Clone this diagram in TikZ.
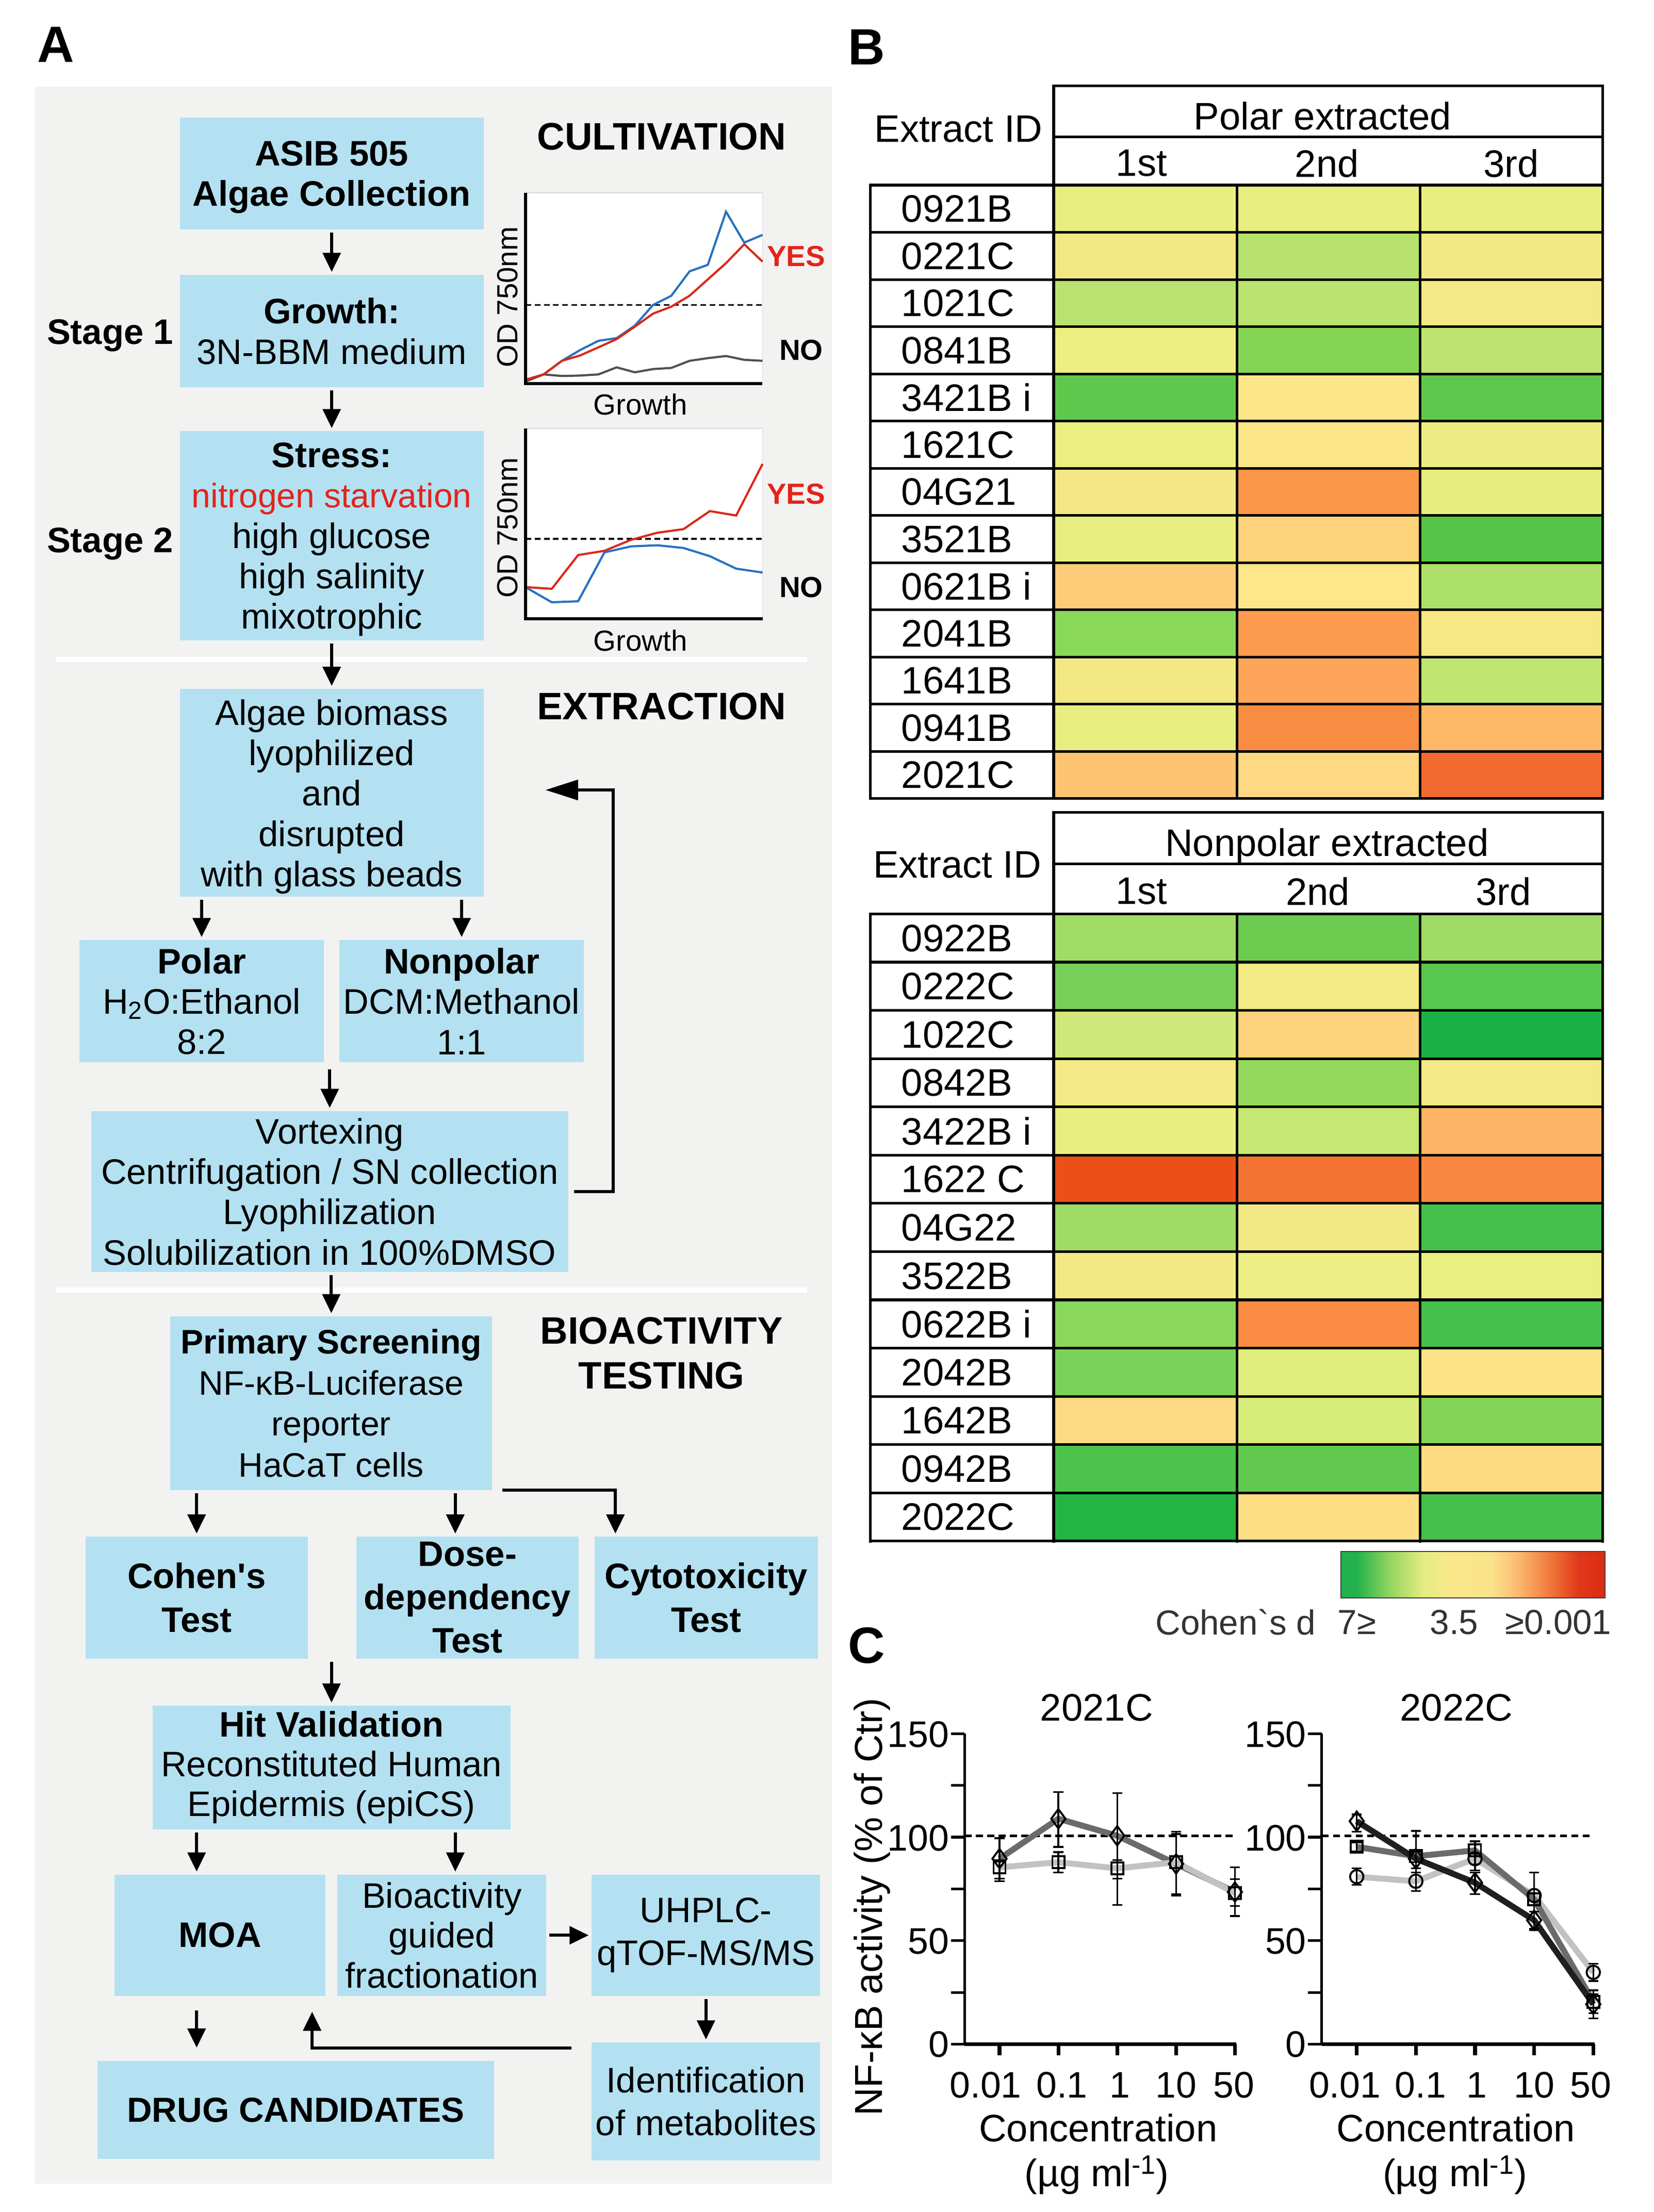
\documentclass[tikz,border=0pt]{standalone}
\usepackage{fontspec}
\setmainfont{Liberation Sans}
\usetikzlibrary{arrows.meta,positioning,calc}

\definecolor{boxblue}{RGB}{180,225,241}
\definecolor{panelgray}{RGB}{242,242,241}
\definecolor{stressred}{RGB}{226,36,27}
\definecolor{odblue}{RGB}{38,114,192}
\definecolor{odred}{RGB}{218,40,22}
\definecolor{odgray}{RGB}{80,80,80}
% colour bar stops
\definecolor{cbA}{HTML}{22B14C}
\definecolor{cbB}{HTML}{8FD45E}
\definecolor{cbC}{HTML}{E2EC80}
\definecolor{cbD}{HTML}{F7E88A}
\definecolor{cbE}{HTML}{FBE38A}
\definecolor{cbF}{HTML}{FDC57A}
\definecolor{cbG}{HTML}{F7A05A}
\definecolor{cbH}{HTML}{EE6E35}
\definecolor{cbI}{HTML}{E0371A}
\definecolor{cbJ}{HTML}{DD2C10}
\pgfdeclarehorizontalshading{cohenbar}{100bp}{color(0bp)=(cbA); color(28bp)=(cbA); color(34bp)=(cbB); color(40.5bp)=(cbC); color(45bp)=(cbD); color(53.5bp)=(cbE); color(57.25bp)=(cbF); color(61bp)=(cbG); color(65.5bp)=(cbH); color(70bp)=(cbI); color(75bp)=(cbJ); color(100bp)=(cbJ)}

\newcommand{\flowfont}{\fontsize{25}{28.5}\selectfont}
\newcommand{\headfont}{\fontsize{27}{31.4}\selectfont\bfseries}
\newcommand{\tabfont}{\fontsize{27}{32}\selectfont}
\newcommand{\odfont}{\fontsize{20.5}{24}\selectfont}
\newcommand{\tickfont}{\fontsize{26}{30}\selectfont}
\newcommand{\axisfont}{\fontsize{27}{31}\selectfont}
\newcommand{\panelfont}{\fontsize{36}{40}\selectfont\bfseries}
\newcommand{\errbar}[3]{\draw[line width=1.2pt] (#1,#2) -- (#1,#3) (#1,#2) ++(-3.5pt,0) -- ++(7pt,0) (#1,#3) ++(-3.5pt,0) -- ++(7pt,0);}

\tikzset{
  diam/.pic={\draw[line width=1.4pt] (0,6.8pt) -- (5pt,0) -- (0,-6.8pt) -- (-5pt,0) -- cycle;},
  sqm/.pic={\draw[line width=1.4pt] (-4.2pt,-4.2pt) rectangle (4.2pt,4.2pt);},
  circm/.pic={\draw[line width=1.4pt] (0,0) circle (4.7pt);}
}

\begin{document}
\begin{tikzpicture}[x=1pt,y=-1pt,
  box/.style={fill=boxblue, inner sep=0pt, align=center, font=\flowfont},
  arr/.style={-{Triangle[length=13.5pt,width=12.5pt]}, line width=2.3pt, shorten <=2pt, shorten >=2pt},
  head/.style={font=\headfont, align=center, inner sep=0pt},
  odlbl/.style={font=\odfont, inner sep=0pt, text depth=0pt},
  tablbl/.style={font=\tabfont, inner sep=0pt, text depth=0pt},
  tabline/.style={line width=1.9pt, line cap=rect},
  ticklbl/.style={font=\tickfont, inner sep=0pt, text depth=0pt},
  axlbl/.style={font=\axisfont, inner sep=0pt, text depth=0pt},
  lgd/.style={font=\fontsize{24.5}{28}\selectfont, text=black!80, inner sep=0pt, text depth=0pt},
  panel/.style={font=\panelfont, inner sep=0pt, text depth=0pt},
  serblack/.style={line width=4.2pt, black!88, line join=round},
  serdark/.style={line width=4.2pt, black!58, line join=round},
  serlight/.style={line width=4.2pt, black!24, line join=round}]

\useasboundingbox (0,0) rectangle (1166,1560.2);
\fill[white] (0,0) rectangle (1166,1560.2);

%% ---------------- A: work flow ----------------
\node[panel] (labA) at (39.2,31.6) {A};
\fill[panelgray] (24.9,61.2) rectangle (586.5,1540);
\draw[white, line width=3.8pt] (39.4,465.2) -- (569,465.2);
\draw[white, line width=3.8pt] (39.4,910) -- (569,910);

\node[head] (cult) at (466.5,96.4) {CULTIVATION};
\node[head] (extr) at (466.5,498.3) {EXTRACTION};
\node[head] (bioact) at (466.5,954.4) {BIOACTIVITY\\TESTING};
\node[font=\flowfont\bfseries, inner sep=0pt, text depth=0pt] (st1) at (77.6,234.2) {Stage 1};
\node[font=\flowfont\bfseries, inner sep=0pt, text depth=0pt] (st2) at (77.6,380.8) {Stage 2};

% cultivation
\node[box, font=\flowfont\bfseries, text depth=0pt, minimum width=214.3pt, minimum height=78.9pt] (asib) at (233.9,122.4) {ASIB 505\\Algae Collection};
\node[box, minimum width=214.3pt, minimum height=79.2pt] (growth) at (233.9,233.6) {\textbf{Growth:}\\3N-BBM medium};
\node[box, text depth=-4pt, minimum width=214.3pt, minimum height=147.4pt] (stress) at (233.9,377.9) {\textbf{Stress:}\\\textcolor{stressred}{\fontsize{24}{28.5}\selectfont nitrogen starvation}\\high glucose\\high salinity\\mixotrophic};

% extraction
\node[box, text depth=0pt, minimum width=214.3pt, minimum height=146.6pt] (biomass) at (233.9,559.3) {Algae biomass\\lyophilized\\and\\disrupted\\with glass beads};
\node[box, minimum width=172.6pt, minimum height=86.1pt] (polar) at (142.2,706.2) {\textbf{Polar}\\H\textsubscript{2}O:Ethanol\\8:2};
\node[box, minimum width=172.6pt, minimum height=86.1pt] (nonpolar) at (325.5,706.2) {\textbf{Nonpolar}\\DCM:Methanol\\1:1};
\node[box, minimum width=336.4pt, minimum height=113.7pt] (vortex) at (232.5,840.5) {Vortexing\\Centrifugation / SN collection\\Lyophilization\\Solubilization in 100\%DMSO};

% bioactivity testing
\node[box, font=\fontsize{24}{29}\selectfont, minimum width=226.9pt, minimum height=122.5pt] (primary) at (233.6,989.7) {\textbf{Primary Screening}\\NF-κB-Luciferase\\reporter\\HaCaT cells};
\node[box, font=\fontsize{25}{31}\selectfont\bfseries, minimum width=156.9pt, minimum height=85.9pt] (cohen) at (138.65,1126.85) {Cohen\textquotesingle s\\Test};
\node[box, font=\fontsize{25}{30.5}\selectfont\bfseries, minimum width=156.9pt, minimum height=85.9pt] (dose) at (329.65,1126.85) {Dose-\\dependency\\Test};
\node[box, font=\fontsize{25}{31}\selectfont\bfseries, minimum width=157.3pt, minimum height=85.9pt] (cyto) at (498.05,1126.85) {Cytotoxicity\\Test};
\node[box, font=\fontsize{25}{28}\selectfont, minimum width=252.5pt, minimum height=87.1pt] (hit) at (233.75,1246.65) {\textbf{Hit Validation}\\Reconstituted Human\\Epidermis (epiCS)};
\node[box, font=\flowfont\bfseries, minimum width=148.8pt, minimum height=85.4pt] (moa) at (155.1,1365) {MOA};
\node[box, font=\fontsize{25}{28.1}\selectfont, minimum width=147.2pt, minimum height=85.4pt] (bioguided) at (311.6,1365) {Bioactivity\\guided\\fractionation};
\node[box, font=\fontsize{25}{30}\selectfont, minimum width=161pt, minimum height=85.4pt] (uhplc) at (497.8,1365) {UHPLC-\\qTOF-MS/MS};
\node[box, font=\fontsize{25}{30}\selectfont, minimum width=161pt, minimum height=83pt] (ident) at (497.8,1482.2) {Identification\\of metabolites};
\node[box, font=\fontsize{24.5}{28}\selectfont\bfseries, minimum width=279.7pt, minimum height=69.4pt] (drug) at (208.45,1488.2) {DRUG CANDIDATES};

\draw[arr] (asib) -- (growth);
\draw[arr] (growth) -- (stress);
\draw[arr] (stress) -- (biomass);
\draw[arr] (biomass.south -| polar) -- (polar);
\draw[arr] (biomass.south -| nonpolar) -- (nonpolar);
\draw[arr, shorten <=5pt] (polar.south -| vortex) -- (vortex);
\draw[arr] (vortex.south -| primary) -- (primary);
\coordinate (fbcorner) at (432.4,557.2);
\coordinate (fbtip) at (384.6,557.2);
\draw[line width=2.3pt, -{Triangle[length=23pt,width=14pt]}] ([xshift=4pt]vortex.east) -- (vortex.east -| fbcorner) -- (fbcorner) -- (fbtip);

\coordinate (dosein) at ([xshift=-8.6pt]dose.north);
\coordinate (cytoin) at ([xshift=86.7pt]primary.south east);
\draw[arr] (primary.south -| cohen) -- (cohen);
\draw[arr] (primary.south -| dosein) -- (dosein);
\draw[arr, shorten <=0pt] ([xshift=7pt]primary.south east) -- (cytoin) -- (cytoin |- cyto.north);
\draw[arr] (cohen.south -| hit) -- (hit);
\draw[arr] (hit.south -| cohen) -- (moa.north -| cohen);
\draw[arr] (hit.south -| dosein) -- (bioguided.north -| dosein);
\draw[arr] (bioguided) -- (uhplc);
\draw[arr] (uhplc) -- (ident);
\draw[arr, shorten <=10pt, shorten >=9pt] (moa.south -| cohen) -- (drug.north -| cohen);
\draw[arr, shorten <=0pt, shorten >=11pt] ([xshift=-14pt,yshift=-4pt]ident.north west) -| ([xshift=-9.6pt]moa.south east);

% growth curves, stage 1
\begin{scope}[xshift=370.5pt, yshift=-270.6pt, x=12.86pt, y=1pt]
  \fill[white] (0,0) rectangle (13,134.7);
  \draw[line width=0.6pt, black!15] (0,134.7) -- (13,134.7) -- (13,0);
  \draw[line width=1.3pt, dash pattern=on 4pt off 2.5pt] (0,55.5) -- (13,55.5);
  \draw[odgray, line width=1.5pt] plot coordinates {(0,1.5) (1,6.5) (2,5.4) (3,5.7) (4,6.5) (5,11.5) (6,8) (7,10.3) (8,11.1) (9,16.1) (10,18) (11,19.5) (12,16.8) (13,16.1)};
  \draw[odblue, line width=1.5pt] plot coordinates {(0,2.7) (1,6.5) (2,16.1) (3,23.7) (4,30.2) (5,32.1) (6,40.9) (7,55.5) (8,62) (9,79.2) (10,83.8) (11,121.3) (12,99.5) (13,104.9)};
  \draw[odred, line width=1.5pt] plot coordinates {(0,2.7) (1,6.5) (2,16.1) (3,19.9) (4,25.6) (5,31.4) (6,40.2) (7,49.4) (8,54.3) (9,62) (10,73.5) (11,85) (12,98.3) (13,86.1)};
  \draw[line width=2.3pt] (0,134.7) -- (0,0) -- (13,0);
\end{scope}
% growth curves, stage 2
\begin{scope}[xshift=370.5pt, yshift=-436.3pt, x=18.58pt, y=1pt]
  \fill[white] (0,0) rectangle (9,134);
  \draw[line width=0.6pt, black!15] (0,134) -- (9,134) -- (9,0);
  \draw[line width=1.3pt, dash pattern=on 4pt off 2.5pt] (0,56.3) -- (9,56.3);
  \draw[odblue, line width=1.5pt] plot coordinates {(0,22.2) (1,11.5) (2,12.2) (3,46.7) (4,50.9) (5,51.7) (6,49.8) (7,44) (8,35.2) (9,32.5)};
  \draw[odred, line width=1.5pt] plot coordinates {(0,22.2) (1,21) (2,44.8) (3,47.8) (4,55.5) (5,60.5) (6,63.1) (7,75.8) (8,72.7) (9,109.1)};
  \draw[line width=2.3pt] (0,134) -- (0,0) -- (9,0);
\end{scope}
\node[odlbl, rotate=90] (od1) at (357.8,209.5) {OD 750nm};
\node[odlbl, rotate=90] (od2) at (357.8,372.2) {OD 750nm};
\node[odlbl] (gr1) at (451.6,285.1) {Growth};
\node[odlbl] (gr2) at (451.6,451.6) {Growth};
\node[odlbl, font=\odfont\bfseries, text=stressred] (yes1) at (561.4,180.6) {YES};
\node[odlbl, font=\odfont\bfseries] (no1) at (565,246.8) {NO};
\node[odlbl, font=\odfont\bfseries, text=stressred] (yes2) at (561.4,348.3) {YES};
\node[odlbl, font=\odfont\bfseries] (no2) at (565,414) {NO};

%% ---------------- B: heat maps ----------------
\node[panel] (labB) at (611,33.4) {B};

% polar extracted
\node[tablbl] (pid) at (675.9,91) {Extract ID};
\node[tablbl] (phead) at (932.7,81.6) {Polar extracted};
\node[tablbl] (p1) at (805,115) {1st};
\node[tablbl] (p2) at (935.7,115) {2nd};
\node[tablbl] (p3) at (1065.6,115) {3rd};
\foreach \lab/\ca/\cb/\cc [count=\r from 0] in {0921B/E8EF80/E8EF80/E8EF80, 0221C/F2E984/B6E16C/F2E984, 1021C/B9E270/BAE370/F5E886, 0841B/EEEF83/84D456/BDE471, 3421B i/5FC94D/FCE68A/5EC84C, 1621C/EAEF80/FCE68A/EDEC82, 04G21/F5E787/FB9548/E6EE7F, 3521B/E8EF80/FED37C/55C448, 0621B i/FECC78/FEE68A/ACE069, 2041B/8AD85A/FC9B4F/F6E883, 1641B/F4E884/FDA65A/C0E571, 0941B/E8EF80/F98C43/FEB967, 2021C/FEC472/FED883/F26A2F}{
  \definecolor{cella}{HTML}{\ca}
  \definecolor{cellb}{HTML}{\cb}
  \definecolor{cellc}{HTML}{\cc}
  \fill[cella] (743,130.6+\r*33.28) rectangle (872.3,163.88+\r*33.28);
  \fill[cellb] (872.3,130.6+\r*33.28) rectangle (1001.3,163.88+\r*33.28);
  \fill[cellc] (1001.3,130.6+\r*33.28) rectangle (1130,163.88+\r*33.28);
  \node[tablbl, anchor=west] (prow\r) at (635.5,147.24+\r*33.28) {\lab};
}
\draw[tabline] (743,60.5) rectangle (1130,130.6);
\draw[tabline] (743,96.5) -- (1130,96.5);
\foreach \r in {0,...,13} \draw[tabline] (613.8,130.6+\r*33.28) -- (1130,130.6+\r*33.28);
\foreach \cx in {613.8,743,872.3,1001.3,1130} \draw[tabline] (\cx,130.6) -- (\cx,563.24);

% nonpolar extracted
\node[tablbl] (nid) at (675,610) {Extract ID};
\node[tablbl] (nhead) at (935.7,594.1) {Nonpolar extracted};
\node[tablbl] (n1) at (805,628.6) {1st};
\node[tablbl] (n2) at (929.2,628.6) {2nd};
\node[tablbl] (n3) at (1060.2,628.6) {3rd};
\foreach \lab/\ca/\cb/\cc [count=\r from 0] in {0922B/A0DC66/6BCC4F/9FDB66, 0222C/78D058/F3EA85/58C74D, 1022C/D0E87A/FED27C/1CB145, 0842B/F5E886/94D95E/F5E886, 3422B i/E8EF80/C6E873/FEB466, 1622 C/EA5018/F37432/F98840, 04G22/9FDB66/F2E984/45C04A, 3522B/F3E984/EDEE83/EAEF82, 0622B i/8AD75E/FA8C43/45C04A, 2042B/7BD159/DFEE7D/FDE388, 1642B/FED983/D8EC7A/84D458, 0942B/4DC34B/62C94F/FDDA82, 2022C/24B443/FEDE85/45C04A}{
  \definecolor{cella}{HTML}{\ca}
  \definecolor{cellb}{HTML}{\cb}
  \definecolor{cellc}{HTML}{\cc}
  \fill[cella] (743,644.6+\r*34.03) rectangle (872.3,678.63+\r*34.03);
  \fill[cellb] (872.3,644.6+\r*34.03) rectangle (1001.3,678.63+\r*34.03);
  \fill[cellc] (1001.3,644.6+\r*34.03) rectangle (1130,678.63+\r*34.03);
  \node[tablbl, anchor=west] (nrow\r) at (635.5,661.6+\r*34.03) {\lab};
}
\draw[tabline] (743,573) rectangle (1130,644.6);
\draw[tabline] (743,609.3) -- (1130,609.3);
\foreach \r in {0,...,13} \draw[tabline] (613.8,644.6+\r*34.03) -- (1130,644.6+\r*34.03);
\foreach \cx in {613.8,743,872.3,1001.3,1130} \draw[tabline] (\cx,644.6) -- (\cx,1087);

% colour scale
\shade[shading=cohenbar] (945.5,1094.3) rectangle (1131.7,1127.1);
\draw[line width=0.8pt, black!75] (945.5,1094.3) rectangle (1131.7,1127.1);
\node[lgd] (lgdname) at (871.3,1144.1) {Cohen\textasciigrave s d};
\node[lgd] (lgdhi) at (956.9,1144.1) {7≥};
\node[lgd] (lgdmid) at (1025.4,1144.1) {3.5};
\node[lgd] (lgdlo) at (1098.9,1144.1) {≥0.001};

%% ---------------- C: dose response ----------------
\node[panel] (labC) at (611,1160.3) {C};
\node[axlbl, rotate=90, font=\fontsize{27.5}{31}\selectfont] (ylab) at (612,1345) {NF-κB activity (\% of Ctr)};

\foreach \px/\sx in {704.8pt/41.5pt, 956.7pt/41.7pt}{
  \begin{scope}[xshift=\px, yshift=-1441.8pt, x=\sx, y=1.46pt]
    \draw[line width=1.9pt] (-0.593,150) -- (-0.593,0);
    \foreach \v in {0,25,...,150} \draw[line width=1.9pt] (-0.593,\v) -- ++(-9.7pt,0);
    \draw[line width=2.9pt] (-0.593,0) -- (4.02,0);
    \foreach \i in {0,...,4} \draw[line width=2.6pt] (\i,0) -- ++(0,-8pt);
    \draw[line width=1.9pt, dash pattern=on 5pt off 3pt] (-0.593,100.7) -- (4.0,100.7);
  \end{scope}
}
\foreach \yv/\yt [count=\k] in {1223.3/150, 1296.3/100, 1369/50, 1441.8/0}{
  \node[ticklbl, anchor=east] (yta\k) at (669.4,\yv) {\yt};
  \node[ticklbl, anchor=east] (ytb\k) at (921.3,\yv) {\yt};
}
\foreach \tx/\tlab [count=\k] in {695/0.01, 748.8/0.1, 789.6/1, 829.3/10, 870/50, 948.4/0.01, 1001.8/0.1, 1041.5/1, 1081.9/10, 1121.6/50}
  \node[ticklbl] (xt\k) at (\tx,1470.7) {\tlab};
\node[axlbl] (tia) at (773.3,1204.3) {2021C};
\node[axlbl] (tib) at (1027,1204.3) {2022C};
\node[axlbl] (conca) at (774.4,1500.6) {Concentration};
\node[axlbl] (concb) at (1026.6,1500.6) {Concentration};
\node[axlbl] (unita) at (773.4,1531.3) {(µg ml\textsuperscript{-1})};
\node[axlbl] (unitb) at (1026,1531.3) {(µg ml\textsuperscript{-1})};

% 2021C
\begin{scope}[xshift=704.8pt, yshift=-1441.8pt, x=41.5pt, y=1.46pt]
  \draw[serdark] plot coordinates {(0,89.6) (1,108.9) (2,100.7) (3,87.1) (4,73.5)};
  \draw[serlight] plot coordinates {(0,85.4) (1,87.9) (2,84.9) (3,87.9) (4,73)};
  \errbar{0}{78.7}{99.5} \errbar{0}{80}{89}
  \errbar{1}{95.3}{121.8} \errbar{1}{83}{92.8}
  \errbar{2}{67.3}{121.3} \errbar{2}{80}{89}
  \errbar{3}{71.8}{102.7} \errbar{3}{72.5}{101.5}
  \errbar{4}{61.9}{85.4} \errbar{4}{66.8}{79.7}
  \foreach \i/\v in {0/89.6, 1/108.9, 2/100.7, 3/87.1, 4/73.5} \path (\i,\v) pic {diam};
  \foreach \i/\v in {0/85.4, 1/87.9, 2/84.9, 3/87.9, 4/73} \path (\i,\v) pic {sqm};
\end{scope}

% 2022C
\begin{scope}[xshift=956.7pt, yshift=-1441.8pt, x=41.7pt, y=1.46pt]
  \draw[serlight] plot coordinates {(0,80.9) (1,78.7) (2,89.6) (3,71.8) (4,34.7)};
  \draw[serdark] plot coordinates {(0,95.3) (1,90.8) (2,93.6) (3,70) (4,20.5)};
  \draw[serblack] plot coordinates {(0,107.7) (1,89.6) (2,78) (3,59.9) (4,19.3)};
  \errbar{0}{102.7}{111} \errbar{0}{93}{97.5} \errbar{0}{77}{85}
  \errbar{1}{74}{103} \errbar{1}{85}{93} \errbar{1}{74}{83}
  \errbar{2}{84}{98} \errbar{2}{72.5}{83} \errbar{2}{87}{92}
  \errbar{3}{55.7}{83} \errbar{3}{55}{64}
  \errbar{4}{30.5}{38.9} \errbar{4}{12.4}{24} \errbar{4}{15}{26}
  \foreach \i/\v in {0/80.9, 1/78.7, 2/89.6, 3/71.8, 4/34.7} \path (\i,\v) pic {circm};
  \foreach \i/\v in {0/95.3, 1/90.8, 2/93.6, 3/70, 4/20.5} \path (\i,\v) pic {sqm};
  \foreach \i/\v in {0/107.7, 1/89.6, 2/78, 3/59.9, 4/19.3} \path (\i,\v) pic {diam};
\end{scope}

\end{tikzpicture}
\end{document}
